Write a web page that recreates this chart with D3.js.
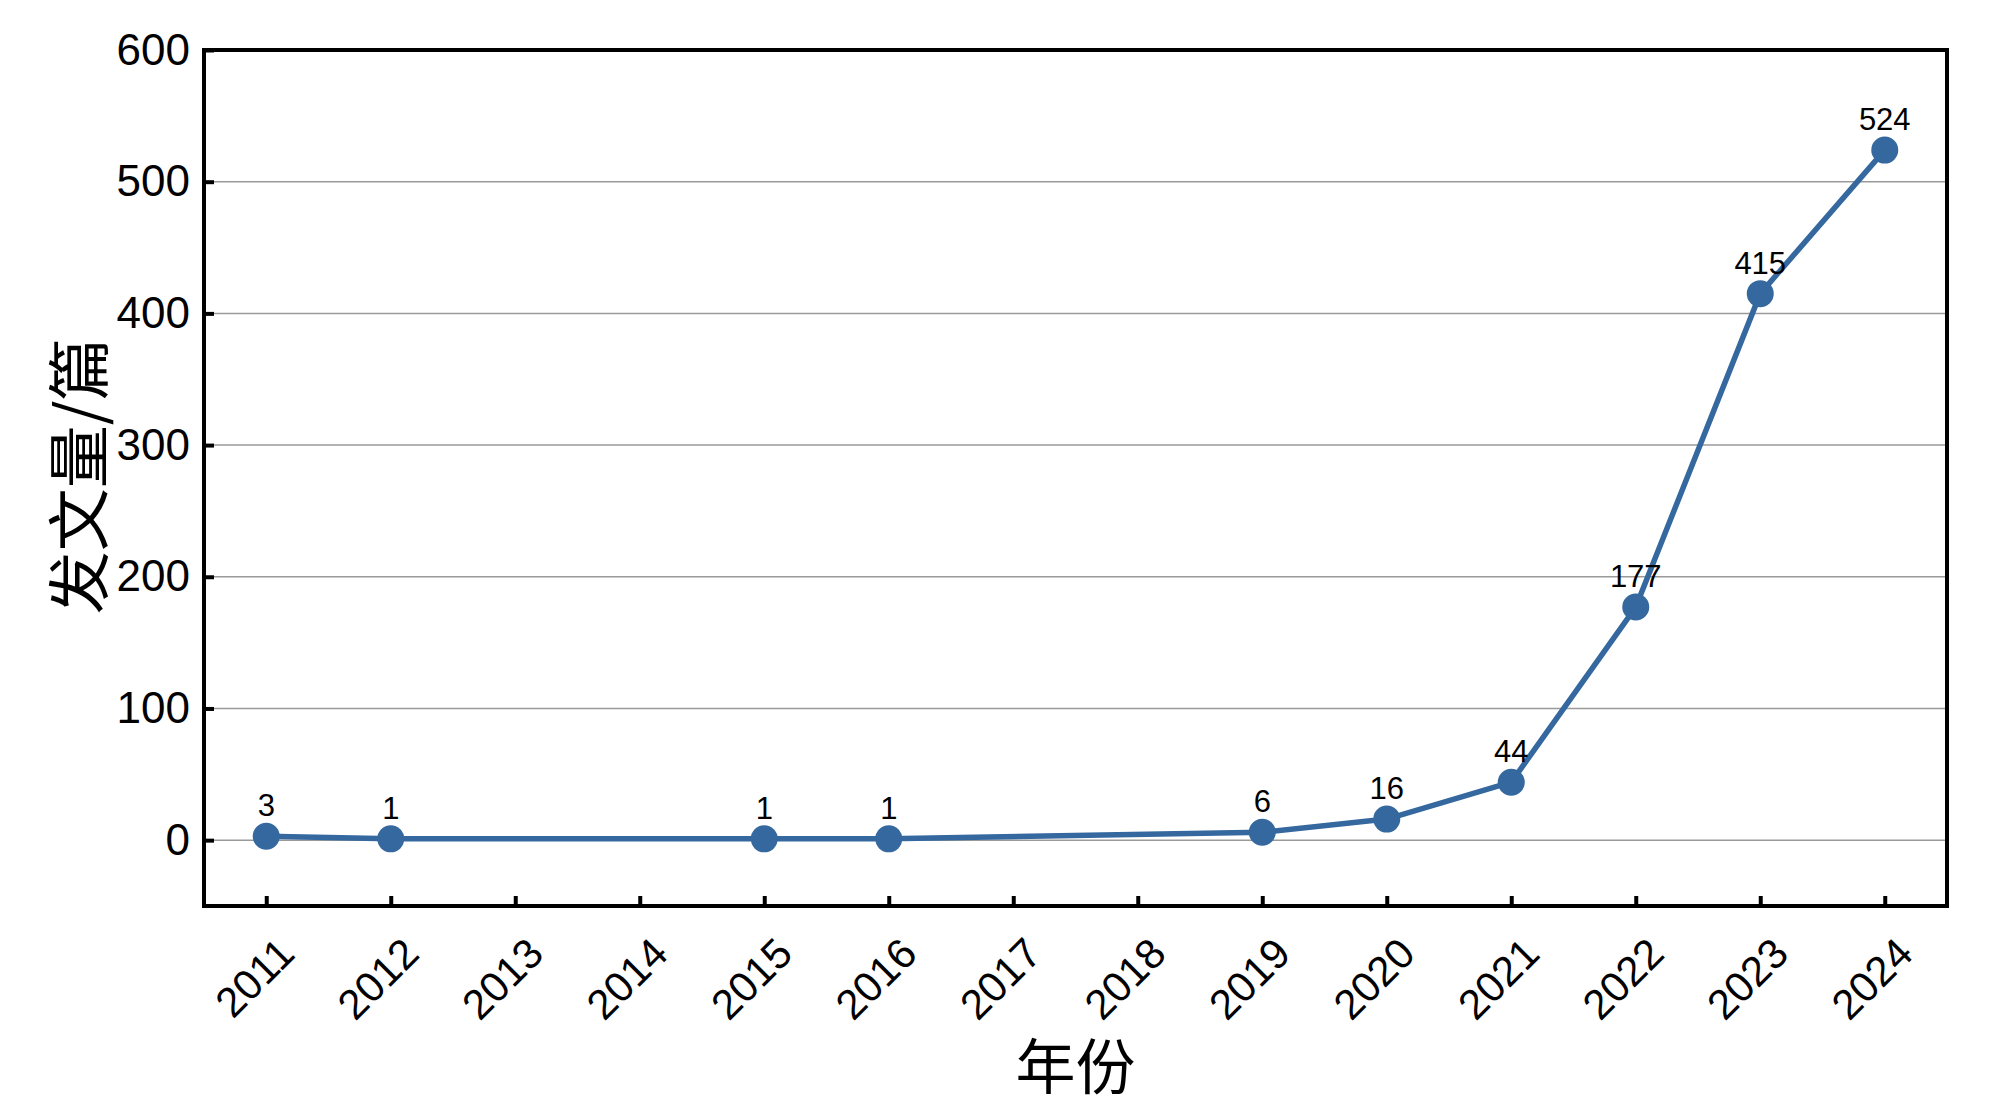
<!DOCTYPE html>
<html>
<head>
<meta charset="utf-8">
<script src="https://cdn.jsdelivr.net/npm/d3@7"></script>
<style>
  html, body { margin: 0; padding: 0; background: #fff; }
  svg { display: block; }
</style>
</head>
<body>
<svg id="chart" width="2000" height="1120"></svg>
<script>
// ---- data ----
const years = [2011, 2012, 2015, 2016, 2019, 2020, 2021, 2022, 2023, 2024];
const counts = [3, 1, 1, 1, 6, 16, 44, 177, 415, 524];
const xTickYears = [2011, 2012, 2013, 2014, 2015, 2016, 2017, 2018, 2019, 2020, 2021, 2022, 2023, 2024];
const yTickValues = [0, 100, 200, 300, 400, 500, 600];
const xTitle = "年份";
const yTitle = "发文量/篇";

(function () {
// ---- layout ----
const pLeft = 204, pRight = 1947, pTop = 50, pBottom = 906;
const color = "#34689f";
const latin = "'Liberation Sans', Arial, sans-serif";
const cjk = "'Noto Sans CJK SC', sans-serif";

const svg = d3.select("#chart");
const x = d3.scaleLinear().domain([2010.5, 2024.5]).range([pLeft, pRight]);
const y = d3.scaleLinear().domain([-50, 600]).range([pBottom, pTop]);

// gridlines
svg.append("g")
  .selectAll("line")
  .data(yTickValues.filter(v => v < 600))
  .join("line")
  .attr("x1", pLeft).attr("x2", pRight)
  .attr("y1", d => y(d)).attr("y2", d => y(d))
  .attr("stroke", "#9a9a9a")
  .attr("stroke-width", 1.5);

// y axis
const yAxis = svg.append("g")
  .attr("transform", `translate(${pLeft},0)`)
  .call(d3.axisLeft(y).tickValues(yTickValues).tickSize(-10).tickPadding(14).tickFormat(d3.format("d")));
yAxis.select(".domain").remove();
yAxis.selectAll(".tick line").attr("stroke", "#000").attr("stroke-width", 4);
yAxis.selectAll(".tick text")
  .attr("font-family", latin).attr("font-size", 44).attr("fill", "#000");

// x axis
const xAxis = svg.append("g")
  .attr("transform", `translate(0,${pBottom})`)
  .call(d3.axisBottom(x).tickValues(xTickYears).tickSize(-10).tickFormat(d3.format("d")));
xAxis.select(".domain").remove();
xAxis.selectAll(".tick line").attr("stroke", "#000").attr("stroke-width", 4);
xAxis.selectAll(".tick text")
  .attr("font-family", latin).attr("font-size", 42).attr("fill", "#000")
  .attr("text-anchor", "end")
  .attr("dy", null)
  .attr("y", null)
  .attr("transform", "translate(30,50) rotate(-45)");

// frame
svg.append("rect")
  .attr("x", pLeft).attr("y", pTop)
  .attr("width", pRight - pLeft).attr("height", pBottom - pTop)
  .attr("fill", "none").attr("stroke", "#000").attr("stroke-width", 4);

// line
const pts = years.map((yr, i) => ({ yr, v: counts[i] }));
svg.append("path")
  .datum(pts)
  .attr("fill", "none")
  .attr("stroke", color)
  .attr("stroke-width", 5.5)
  .attr("stroke-linejoin", "round")
  .attr("d", d3.line().x(d => x(d.yr)).y(d => y(d.v)));

// markers
svg.append("g")
  .selectAll("circle")
  .data(pts)
  .join("circle")
  .attr("cx", d => x(d.yr)).attr("cy", d => y(d.v))
  .attr("r", 13.5)
  .attr("fill", color);

// value labels
svg.append("g")
  .selectAll("text")
  .data(pts)
  .join("text")
  .attr("x", d => x(d.yr))
  .attr("y", d => y(d.v) - 20)
  .attr("text-anchor", "middle")
  .attr("font-family", latin)
  .attr("font-size", 31)
  .attr("fill", "#000")
  .text(d => d.v);

// axis titles
svg.append("text")
  .attr("x", (pLeft + pRight) / 2).attr("y", 1062)
  .attr("text-anchor", "middle")
  .attr("dominant-baseline", "central")
  .attr("font-family", cjk).attr("font-size", 60).attr("fill", "#000")
  .text(xTitle);

svg.append("text")
  .attr("transform", "translate(74,476) rotate(-90)")
  .attr("text-anchor", "middle")
  .attr("dominant-baseline", "central")
  .attr("font-family", cjk).attr("font-size", 63).attr("fill", "#000")
  .text(yTitle);
})();
</script>
</body>
</html>
